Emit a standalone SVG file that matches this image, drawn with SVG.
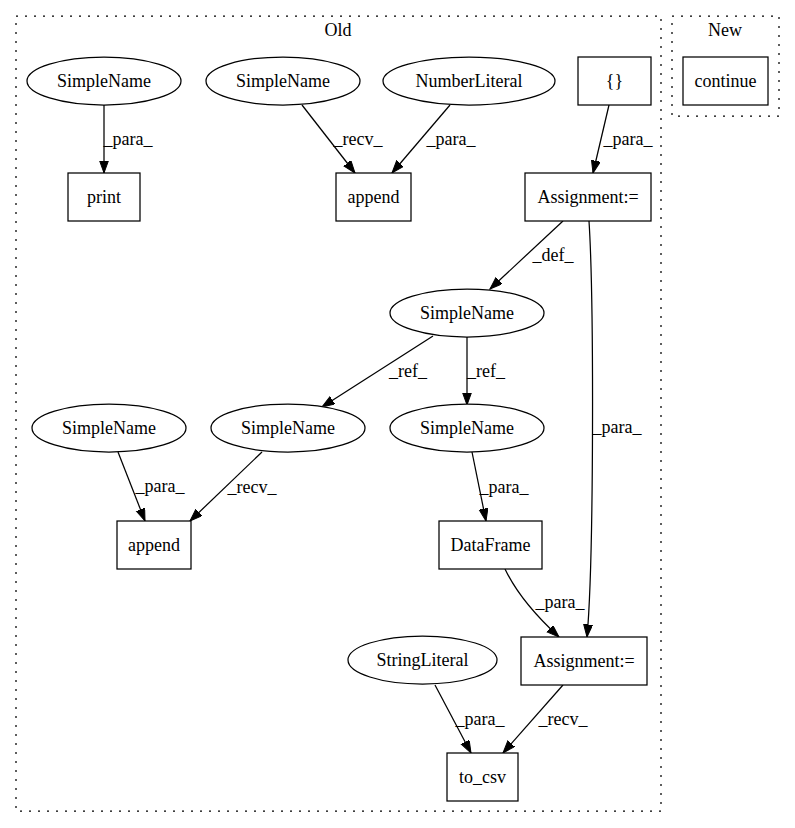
<svg xmlns="http://www.w3.org/2000/svg" width="795" height="828" viewBox="0 0 795 828">
<style>
text{font-family:"Liberation Serif","Times New Roman",serif;font-size:18px;fill:#000;text-anchor:middle}
.n{fill:#fff;stroke:#000;stroke-width:1.25}
.cl{fill:none;stroke:#000;stroke-width:1.25;stroke-dasharray:2,7}
.e{fill:none;stroke:#000;stroke-width:1.25;marker-end:url(#ah)}
</style>
<defs>
<marker id="ah" markerUnits="userSpaceOnUse" markerWidth="14" markerHeight="10" refX="12.5" refY="4.5" orient="auto" viewBox="0 0 14 10">
<path d="M0,0 L12.5,4.5 L0,9 z" fill="#000" stroke="#000" stroke-width="1"/>
</marker>
</defs>
<rect width="795" height="828" fill="#fff"/>
<g id="cluster_old">
<rect class="cl" x="16" y="16" width="645" height="795"/>
<text x="338" y="36">Old</text>
</g>
<g id="cluster_new">
<rect class="cl" x="672" y="16" width="107" height="100"/>
<text x="725" y="36">New</text>
</g>
<g id="edges">
<path class="e" d="M104,105 L104,173"/>
<path class="e" d="M302,105 L355,173"/>
<path class="e" d="M450,105 L392,173"/>
<path class="e" d="M609,105 L593,173"/>
<path class="e" d="M563,221 L490,289"/>
<path class="e" d="M589,221 C594,300 594,560 587,637"/>
<path class="e" d="M433,336 L322,407"/>
<path class="e" d="M467,337 L467,405"/>
<path class="e" d="M118,452 L145,521"/>
<path class="e" d="M262,452 L190,521"/>
<path class="e" d="M472,452 L486,521"/>
<path class="e" d="M505,569 C515,590 535,615 559,637"/>
<path class="e" d="M435,685 L471,753"/>
<path class="e" d="M563,685 L503,753"/>
<text x="128" y="145">_para_</text>
<text x="358" y="145">_recv_</text>
<text x="451" y="145">_para_</text>
<text x="628" y="145">_para_</text>
<text x="553" y="261">_def_</text>
<text x="617" y="433">_para_</text>
<text x="408" y="377">_ref_</text>
<text x="486" y="377">_ref_</text>
<text x="160" y="492">_para_</text>
<text x="252" y="493">_recv_</text>
<text x="504" y="493">_para_</text>
<text x="560" y="608">_para_</text>
<text x="480" y="725">_para_</text>
<text x="563" y="725">_recv_</text>
</g>
<g id="n_sn1"><ellipse class="n" cx="104" cy="81" rx="77" ry="24"/><text x="104" y="87">SimpleName</text></g>
<g id="n_print"><rect class="n" x="68" y="173" width="72" height="48"/><text x="104" y="203">print</text></g>
<g id="n_sn2"><ellipse class="n" cx="283" cy="81" rx="77" ry="24"/><text x="283" y="87">SimpleName</text></g>
<g id="n_numlit"><ellipse class="n" cx="469" cy="81" rx="86" ry="24"/><text x="469" y="87">NumberLiteral</text></g>
<g id="n_append1"><rect class="n" x="336" y="173" width="75" height="48"/><text x="373.5" y="203">append</text></g>
<g id="n_braces"><rect class="n" x="578" y="57" width="73" height="48"/><text x="614.5" y="87">{}</text></g>
<g id="n_assign1"><rect class="n" x="525" y="173" width="126" height="48"/><text x="588" y="203">Assignment:=</text></g>
<g id="n_continue"><rect class="n" x="683" y="57" width="85" height="48"/><text x="725.5" y="87">continue</text></g>
<g id="n_snmid"><ellipse class="n" cx="467" cy="313" rx="77" ry="24"/><text x="467" y="319">SimpleName</text></g>
<g id="n_snleft"><ellipse class="n" cx="109" cy="428" rx="77" ry="24"/><text x="109" y="434">SimpleName</text></g>
<g id="n_snrecv"><ellipse class="n" cx="288" cy="428" rx="77" ry="24"/><text x="288" y="434">SimpleName</text></g>
<g id="n_snright"><ellipse class="n" cx="467" cy="428" rx="77" ry="24"/><text x="467" y="434">SimpleName</text></g>
<g id="n_append2"><rect class="n" x="117" y="521" width="74" height="48"/><text x="154" y="551">append</text></g>
<g id="n_dataframe"><rect class="n" x="439" y="521" width="103" height="48"/><text x="490.5" y="551">DataFrame</text></g>
<g id="n_strlit"><ellipse class="n" cx="422.5" cy="660" rx="74.5" ry="24"/><text x="422.5" y="666">StringLiteral</text></g>
<g id="n_assign2"><rect class="n" x="521" y="637" width="126" height="48"/><text x="584" y="667">Assignment:=</text></g>
<g id="n_tocsv"><rect class="n" x="447" y="753" width="71" height="48"/><text x="482.5" y="783">to_csv</text></g>
</svg>
